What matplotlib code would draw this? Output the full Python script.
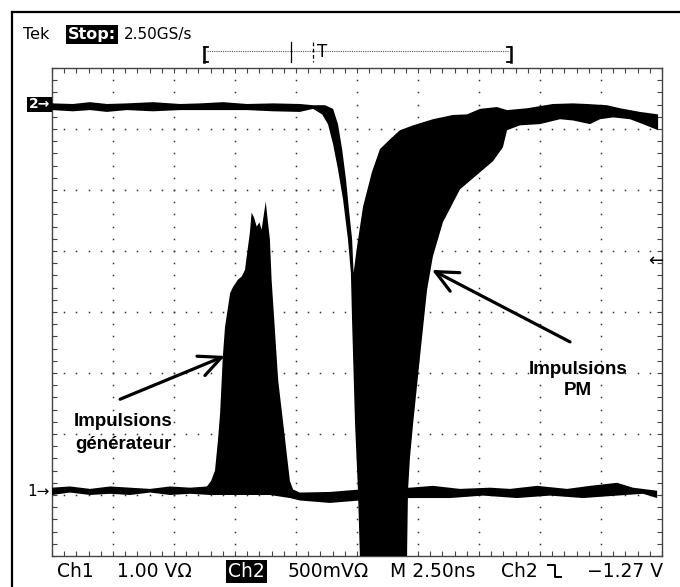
import numpy as np
import matplotlib
matplotlib.use('Agg')
import matplotlib.pyplot as plt
import matplotlib.font_manager as fm
from matplotlib.lines import Line2D
from matplotlib.patches import Rectangle

# time in ns (2.50 ns/div, 10 div), amplitude in screen divisions (-4..4)
ch2_upper_t = [0, 0.86, 1.56, 2.25, 3.07, 4.14, 5.25, 6.07, 7.01, 7.99, 9.06, 10.16,
               10.70, 11.19, 11.52, 11.72, 11.89, 12.05, 12.17, 12.30, 12.36,
               12.50, 12.75, 13.11, 13.44, 13.85, 14.26, 14.80, 15.61, 16.43, 17.01, 17.54,
               18.24, 18.65, 19.47, 20.53, 21.35, 21.93, 22.75, 23.28, 24.10, 24.84]
ch2_upper_y = [3.42, 3.41, 3.44, 3.41, 3.42, 3.44, 3.41, 3.42, 3.44, 3.41, 3.42, 3.41,
               3.39, 3.39, 3.33, 3.08, 2.67, 2.17, 1.68, 1.19, 0.64,
               1.07, 1.73, 2.29, 2.67, 2.83, 2.98, 3.06, 3.16, 3.23, 3.24, 3.33,
               3.36, 3.31, 3.34, 3.41, 3.42, 3.41, 3.39, 3.34, 3.28, 3.24]
ch2_lower_t = [24.84, 24.22, 23.69, 23.00, 22.46, 22.05, 21.35, 20.82, 20.00, 19.18, 18.65, 18.48,
               18.07, 17.54, 16.72, 16.02, 15.61, 15.37, 15.08, 14.80, 14.67, 14.59, 14.55, 14.51,
               12.66, 12.62, 12.54, 12.42, 12.30,
               12.25, 12.13, 11.93, 11.72, 11.52, 11.31, 11.07, 10.70,
               10.16, 9.06, 7.99, 7.01, 6.07, 5.25, 4.14, 3.07, 2.25, 1.56, 0.86, 0]
ch2_lower_y = [2.98, 3.08, 3.16, 3.19, 3.16, 3.08, 3.14, 3.16, 3.08, 3.06, 2.98, 2.70,
               2.47, 2.29, 2.01, 1.47, 0.91, 0.36, -0.74, -1.83, -2.39, -2.93, -4.03, -4.74,
               -4.74, -4.03, -2.93, -1.83, -0.18,
               0.64, 1.19, 1.84, 2.34, 2.75, 3.08, 3.24, 3.33,
               3.28, 3.29, 3.31, 3.31, 3.31, 3.31, 3.29, 3.31, 3.28, 3.31, 3.29, 3.31]

ch1_upper_t = [0, 0.74, 1.56, 2.38, 3.20, 4.02, 4.84, 5.66, 6.35, 6.52, 6.68, 6.80, 6.89, 7.00,
               7.09, 7.30, 7.42, 7.62, 7.77, 7.91, 7.98, 8.11, 8.18, 8.28, 8.39, 8.50, 8.59, 8.76,
               8.84, 8.93, 9.00, 9.27, 9.51, 9.75, 9.88, 10.16, 11.39, 12.62, 14.67, 15.61, 16.72,
               17.95, 18.77, 19.88, 21.11, 22.05, 23.16, 23.81, 24.80]
ch1_upper_y = [-2.88, -2.86, -2.90, -2.86, -2.88, -2.90, -2.86, -2.88, -2.86, -2.77, -2.60, -2.11,
               -1.66, -0.74, -0.25, 0.31, 0.41, 0.53, 0.58, 0.69, 0.91, 1.30, 1.63, 1.55, 1.40,
               1.47, 1.35, 1.81, 1.51, 1.19, 0.53, -1.12, -1.94, -2.77, -2.91, -2.96, -2.95,
               -2.91, -2.88, -2.85, -2.90, -2.88, -2.90, -2.85, -2.90, -2.85, -2.80, -2.88, -2.93]
ch1_lower_t = [24.80, 24.22, 23.16, 21.76, 20.41, 19.06, 17.66, 16.31, 14.67, 12.62, 11.39, 10.16,
               9.75, 8.93, 7.70, 6.48, 5.66, 4.84, 4.02, 3.20, 2.38, 1.56, 0.74, 0]
ch1_lower_y = [-3.05, -2.98, -3.01, -3.05, -3.01, -3.05, -3.01, -3.05, -3.05, -3.09, -3.13, -3.09,
               -3.05, -3.00, -3.00, -3.00, -2.98, -3.00, -2.96, -3.00, -2.98, -3.00, -2.96, -3.00]

status_items = ['Ch1', '1.00 V\u03a9', 'Ch2', '500mV\u03a9', 'M 2.50ns', 'Ch2', '\u22121.27 V']

names = {f.name for f in fm.fontManager.ttflist}
narrow = 'Liberation Sans Narrow' if 'Liberation Sans Narrow' in names else 'DejaVu Sans'
label_font = 'Liberation Sans' if 'Liberation Sans' in names else 'DejaVu Sans'


def fx(x):
    return x / 680


def fy(y):
    return 1 - y / 587


fig = plt.figure(figsize=(6.8, 5.87), dpi=100)
ax = fig.add_axes([52 / 680, 1 - 556 / 587, 610 / 680, 488 / 587])
ax.set_xlim(0, 25)
ax.set_ylim(-4, 4)

# graticule
ax.set_xticks(np.arange(0, 25.01, 2.5))
ax.set_xticks(np.arange(0, 25.01, 0.5), minor=True)
ax.set_yticks(np.arange(-4, 4.01, 1))
ax.set_yticks(np.arange(-4, 4.01, 0.2), minor=True)
ax.tick_params(which='both', direction='in', top=True, right=True, length=3.5, width=0.8,
               color='#444444', labelbottom=False, labelleft=False)
for s in ax.spines.values():
    s.set_color('#444444')
    s.set_linewidth(1.0)

dots_y = np.arange(-4, 4.01, 0.2)
for gx in np.arange(2.5, 24, 2.5):
    ax.plot(np.full_like(dots_y, gx), dots_y, 's', ms=1.1, color='#333333', mew=0, zorder=1)
dots_x = np.arange(0, 25.01, 0.5)
for gy in range(-3, 4):
    ax.plot(dots_x, np.full_like(dots_x, gy), 's', ms=1.1, color='#333333', mew=0, zorder=1)

# traces (persistence envelopes)
ax.fill(ch2_upper_t + ch2_lower_t, ch2_upper_y + ch2_lower_y, color='black', lw=0, zorder=3)
ax.fill(ch1_upper_t + ch1_lower_t, ch1_upper_y + ch1_lower_y, color='black', lw=0, zorder=3)

# annotations
arrow = dict(arrowstyle='->,head_length=1.6,head_width=0.75', lw=2.3, color='black',
             shrinkA=0, shrinkB=0)
ax.annotate('', xy=(7.09, -0.72), xytext=(2.79, -1.43), arrowprops=arrow, zorder=4)
ax.annotate('', xy=(15.57, 0.69), xytext=(21.23, -0.49), arrowprops=arrow, zorder=4)
ax.text(2.91, -1.98, 'Impulsions\ng\u00e9n\u00e9rateur', ha='center', va='center', fontsize=13.5,
        fontweight='bold', family=label_font, linespacing=1.45, zorder=4)
ax.text(21.56, -1.11, 'Impulsions\nPM', ha='center', va='center', fontsize=13.5,
        fontweight='bold', family=label_font, linespacing=1.3, zorder=4)

# outer frame (left and top)
fig.add_artist(Line2D([fx(12), fx(12)], [fy(12), fy(587)], color='black', lw=1.6))
fig.add_artist(Line2D([fx(12), fx(680)], [fy(12), fy(12)], color='black', lw=1.6))

# header
fig.text(fx(23), fy(39), 'Tek', fontsize=11.5, family=narrow, va='baseline')
fig.text(fx(68), fy(39), 'Stop:', fontsize=11.5, family=narrow, fontweight='bold', color='white',
         va='baseline', bbox=dict(boxstyle='square,pad=0.12', fc='black', ec='none'))
fig.text(fx(124), fy(39), '2.50GS/s', fontsize=11, family=narrow, va='baseline')

# record / trigger position bar
fig.add_artist(Line2D([fx(207), fx(509)], [fy(51), fy(51)], color='#555555', lw=0.8, ls=(0, (1, 1))))
fig.add_artist(Line2D([fx(204), fx(204)], [fy(47), fy(62)], color='black', lw=1.8))
fig.add_artist(Line2D([fx(204), fx(208)], [fy(47), fy(47)], color='black', lw=1.3))
fig.add_artist(Line2D([fx(204), fx(208)], [fy(62), fy(62)], color='black', lw=1.3))
fig.add_artist(Line2D([fx(511), fx(511)], [fy(47), fy(62)], color='black', lw=1.8))
fig.add_artist(Line2D([fx(507), fx(511)], [fy(47), fy(47)], color='black', lw=1.3))
fig.add_artist(Line2D([fx(507), fx(511)], [fy(62), fy(62)], color='black', lw=1.3))
fig.add_artist(Line2D([fx(291), fx(291)], [fy(42), fy(62)], color='black', lw=0.9))
fig.add_artist(Line2D([fx(313), fx(313)], [fy(42), fy(62)], color='black', lw=0.9, ls=(0, (3, 2))))
fig.text(fx(322), fy(52), 'T', fontsize=12, ha='center', va='center')

# channel ground markers and trigger level
fig.add_artist(Rectangle((fx(27), fy(112)), 25 / 680, 15 / 587, transform=fig.transFigure,
                         fc='black', ec='none'))
fig.text(fx(39.5), fy(104.5), '2\u2192', fontsize=10, color='white', fontweight='bold',
         ha='center', va='center')
fig.text(fx(27), fy(491), '1\u2192', fontsize=11, ha='left', va='center')
fig.text(fx(656), fy(261), '\u2190', fontsize=13, ha='center', va='center')

# status line
base = fy(577)
fs = 13.5
fig.text(fx(57), base, status_items[0], fontsize=fs, va='baseline')
fig.text(fx(117), base, status_items[1], fontsize=fs, va='baseline')
fig.text(fx(228), base, status_items[2], fontsize=fs, va='baseline', color='white',
         bbox=dict(boxstyle='square,pad=0.1', fc='black', ec='none'))
fig.text(fx(288), base, status_items[3], fontsize=fs, va='baseline')
fig.text(fx(390), base, status_items[4], fontsize=fs, va='baseline')
fig.text(fx(501), base, status_items[5], fontsize=fs, va='baseline')
fig.add_artist(Line2D([fx(548), fx(555), fx(555), fx(561)], [fy(565), fy(565), fy(577), fy(577)],
                      color='black', lw=1.4))
fig.text(fx(663), base, status_items[6], fontsize=fs, va='baseline', ha='right')

fig.savefig('out.png', dpi=100)
